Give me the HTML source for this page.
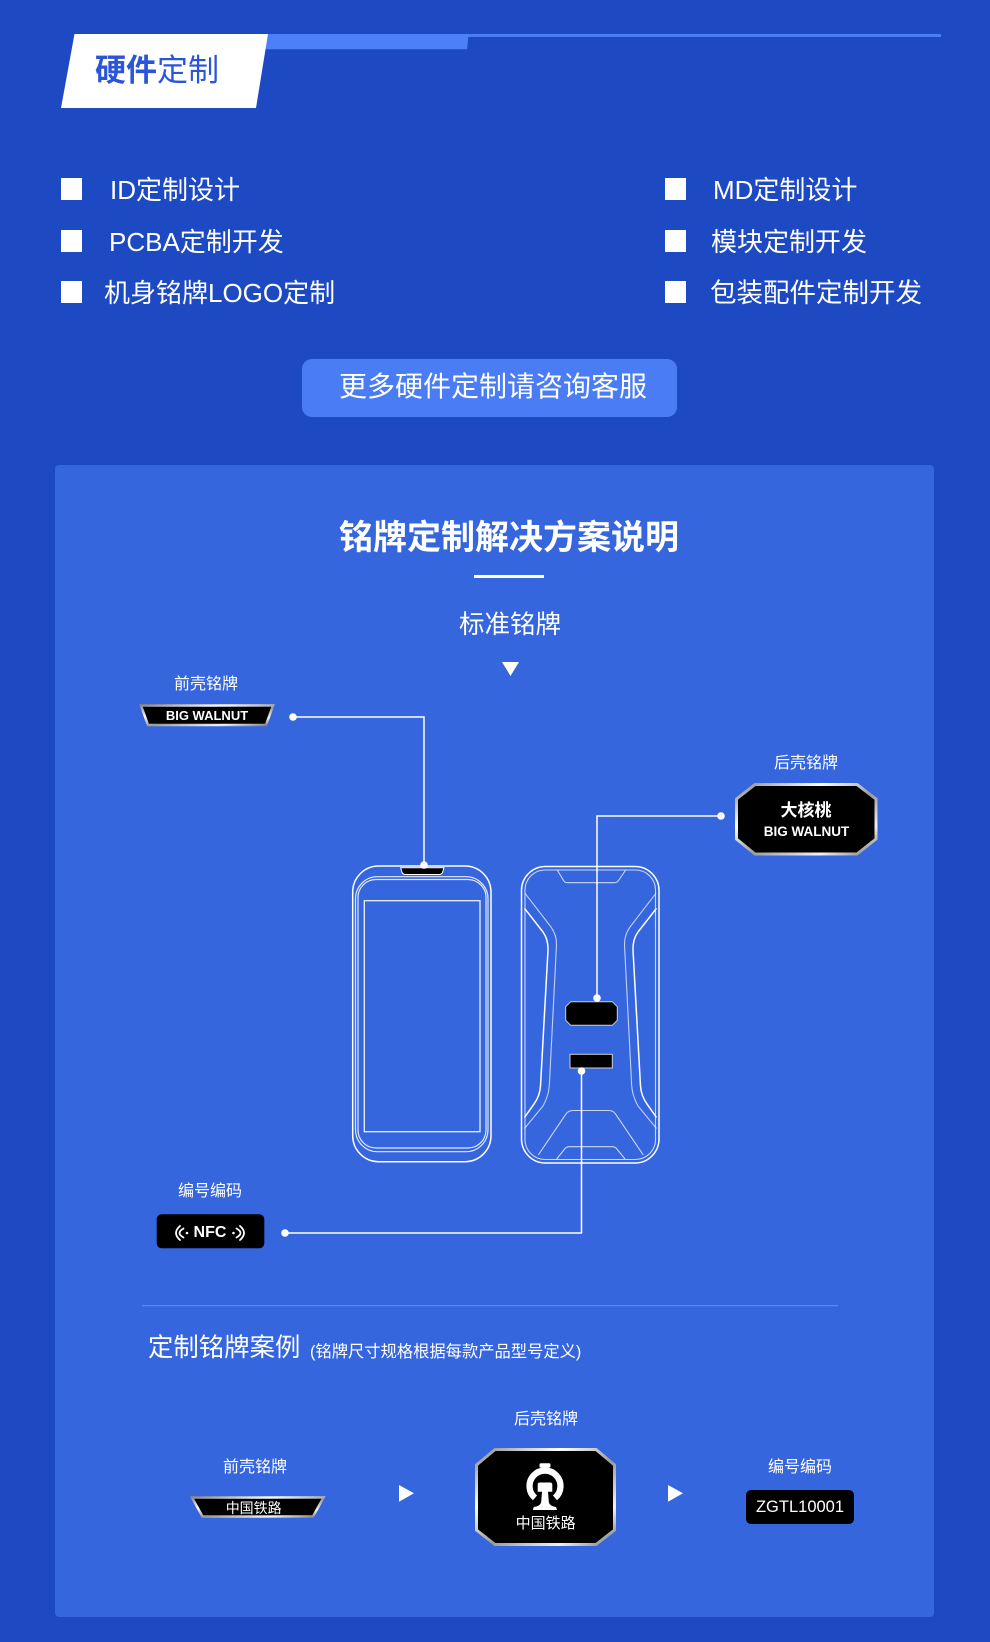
<!DOCTYPE html>
<html>
<head>
<meta charset="utf-8">
<style>
html,body{margin:0;padding:0;}
body{width:990px;height:1642px;background:#1d4ac3;position:relative;overflow:hidden;font-family:"Liberation Sans","Noto Sans CJK SC",sans-serif;color:#fff;}
.t{position:absolute;white-space:nowrap;line-height:1;}
.c{position:absolute;white-space:nowrap;text-align:center;width:240px;}
.sq{position:absolute;width:21px;height:22px;background:#fff;}
svg{position:absolute;left:0;top:0;}
</style>
</head>
<body>
<svg width="990" height="1642" viewBox="0 0 990 1642">
  <defs>
    <linearGradient id="silver" x1="0" y1="0" x2="1" y2="1">
      <stop offset="0" stop-color="#8a8a8a"/>
      <stop offset="0.3" stop-color="#ffffff"/>
      <stop offset="0.55" stop-color="#9a9a9a"/>
      <stop offset="0.8" stop-color="#f2f2f2"/>
      <stop offset="1" stop-color="#7a7a7a"/>
    </linearGradient>
  </defs>
  <!-- header -->
  <rect x="468" y="34" width="473" height="3" fill="#4b7ef5"/>
  <polygon points="262,34 468.5,34 467.2,49.3 262,49.3" fill="#4d80f8"/>
  <polygon points="74.5,34 268,34 256,108 61,108" fill="#ffffff"/>
  <!-- button -->
  <rect x="302" y="359" width="375" height="58" rx="10" fill="#4a7cf6"/>
  <!-- panel -->
  <rect x="55" y="465" width="879" height="1152" rx="4" fill="#3566dd"/>
  <!-- title underline -->
  <rect x="474" y="575" width="70" height="3" fill="#ffffff"/>
  <!-- down triangle -->
  <polygon points="502,662 519,662 510.5,676" fill="#ffffff"/>

  <!-- front plate BIG WALNUT -->
  <polygon points="141,705.5 273,705.5 266,725 148,725" fill="#000" stroke="url(#silver)" stroke-width="2.5"/>
  <!-- back plate octagon -->
  <polygon points="755,784.5 857,784.5 876,799 876,839 857,854 755,854 736.5,839 736.5,799" fill="#000" stroke="url(#silver)" stroke-width="3"/>

  <!-- connectors -->
  <g stroke="#ffffff" stroke-width="1.5" fill="none">
    <polyline points="293,717 424,717 424,865"/>
    <polyline points="721,816 597,816 597,998"/>
    <polyline points="285,1233 581.5,1233 581.5,1071"/>
  </g>

  <!-- front phone -->
  <g fill="none" stroke="#ffffff">
    <rect x="352.7" y="866" width="138.3" height="295.7" rx="26" stroke-width="1.5"/>
    <rect x="355.5" y="876.7" width="132.5" height="275" rx="22" stroke-width="1.2" stroke-opacity="0.85"/>
    <rect x="358" y="879.5" width="128" height="268.5" rx="18" stroke-width="1.2" stroke-opacity="0.85"/>
    <rect x="364.3" y="900.7" width="115.7" height="231" stroke-width="1.3" stroke-opacity="0.9"/>
  </g>
  <path d="M400.7,867.7 L444,867.7 L442.5,872.5 Q441.5,874.5 439,874.5 L405.5,874.5 Q403,874.5 402,872.5 Z" fill="#000" stroke="#ffffff" stroke-width="1"/>

  <!-- back phone -->
  <g fill="none" stroke="#ffffff">
    <rect x="521.5" y="866.5" width="137.5" height="296.5" rx="24" stroke-width="1.5"/>
    <rect x="525" y="870" width="130.5" height="289.5" rx="20" stroke-width="1.1" stroke-opacity="0.75"/>
    <path d="M557.3,870 L563.5,880.5 Q565,882.7 567.5,882.7 L614.5,882.7 Q617,882.7 618.5,880.5 L625.7,870" stroke-width="1.1" stroke-opacity="0.75"/>
    <path d="M524.5,908.3 L543,932 Q548.3,939.5 548,950 L540.5,1086 Q539.8,1096 534,1104 L524.5,1117.5" stroke-width="1.5"/>
    <path d="M525,893.3 L551,927 Q556.7,935 556.5,945 L549.3,1086 Q548.5,1096 543,1106 L524.5,1128.5" stroke-width="1.1" stroke-opacity="0.7"/>
    <path d="M656.5,908.3 L638,932 Q632.7,939.5 633,950 L640.5,1086 Q641.2,1096 647,1104 L656.5,1117.5" stroke-width="1.5"/>
    <path d="M656,893.3 L630,927 Q624.3,935 624.5,945 L631.7,1086 Q632.5,1096 638,1106 L656.5,1128.5" stroke-width="1.1" stroke-opacity="0.7"/>
    <path d="M538.3,1155 L566,1114 Q568.5,1110.5 573,1110.5 L609,1110.5 Q613,1110.5 615.5,1114 L643.3,1155" stroke-width="1.1" stroke-opacity="0.75"/>
    <path d="M556.7,1159 L565,1148.5 Q566.7,1146.7 569.5,1146.7 L612,1146.7 Q614.8,1146.7 616.5,1148.5 L625,1159" stroke-width="1.1" stroke-opacity="0.75"/>
  </g>
  <polygon points="570.7,1001.7 612.3,1001.7 617.3,1006.7 617.3,1020.3 612.3,1025.3 570.7,1025.3 565.7,1020.3 565.7,1006.7" fill="#000" stroke="#cfcfcf" stroke-width="1"/>
  <rect x="570" y="1054.3" width="42.3" height="13.7" fill="#000" stroke="#cfcfcf" stroke-width="1"/>

  <!-- dots -->
  <g fill="#ffffff">
    <circle cx="293" cy="717" r="3.8"/>
    <circle cx="424" cy="865" r="3.8"/>
    <circle cx="721" cy="816" r="3.8"/>
    <circle cx="597" cy="998" r="3.8"/>
    <circle cx="581.5" cy="1071" r="3.8"/>
    <circle cx="285" cy="1233" r="3.8"/>
  </g>

  <!-- NFC plate -->
  <rect x="156.7" y="1214.3" width="107.6" height="34" rx="5" fill="#000"/>
  <g stroke="#ffffff" stroke-width="1.8" fill="none" stroke-linecap="round">
    <path d="M180,1226 Q172,1233 180,1240"/>
    <path d="M183.5,1228.5 Q175.5,1233 183.5,1237.5"/>
    <path d="M240,1226 Q248,1233 240,1240"/>
    <path d="M236.5,1228.5 Q244.5,1233 236.5,1237.5"/>
  </g>
  <circle cx="187" cy="1233" r="1.3" fill="#fff"/>
  <circle cx="233.5" cy="1233" r="1.3" fill="#fff"/>

  <!-- divider -->
  <rect x="142" y="1305" width="696" height="1.2" fill="#5b87ee"/>

  <!-- bottom row -->
  <polygon points="192,1497.5 323.5,1497.5 313,1516.5 202.5,1516.5" fill="#000" stroke="url(#silver)" stroke-width="2.5"/>
  <polygon points="399,1485 414,1493.3 399,1501.7" fill="#ffffff"/>
  <polygon points="668,1485 683,1493.3 668,1501.7" fill="#ffffff"/>
  <polygon points="495,1449.5 596,1449.5 614.5,1465 614.5,1530 596,1544.5 495,1544.5 476.5,1530 476.5,1465" fill="#000" stroke="url(#silver)" stroke-width="3"/>
  <!-- railway logo -->
  <path d="M535,1497.9 A15.5,15.5 0 1 1 555,1497.9" fill="none" stroke="#fff" stroke-width="6.3"/>
  <rect x="539.5" y="1463.3" width="11" height="4.5" rx="1.5" fill="#fff"/>
  <path d="M537.7,1484.5 Q537.7,1482.5 540,1482.5 L550,1482.5 Q552.3,1482.5 552.3,1484.5 L552.3,1491.7 L548,1491.7 L548.8,1502 Q549.5,1506 556,1507 L557,1510 L532.8,1510 L533.8,1507 Q540.5,1506 541.2,1502 L542,1491.7 L537.7,1491.7 Z" fill="#fff"/>
  <rect x="746" y="1490" width="108" height="34" rx="5" fill="#000"/>
</svg>

<!-- header title -->
<div class="t" style="left:95px;top:55px;font-size:31px;color:#2a55d8;"><b>硬件</b>定制</div>

<!-- bullets -->
<div class="sq" style="left:61px;top:178px;"></div>
<div class="sq" style="left:61px;top:230px;"></div>
<div class="sq" style="left:61px;top:281px;"></div>
<div class="sq" style="left:665px;top:178px;"></div>
<div class="sq" style="left:665px;top:230px;"></div>
<div class="sq" style="left:665px;top:281px;"></div>
<div class="t" style="left:110px;top:177px;font-size:26px;">ID定制设计</div>
<div class="t" style="left:109px;top:229px;font-size:26px;">PCBA定制开发</div>
<div class="t" style="left:104px;top:280px;font-size:26px;">机身铭牌LOGO定制</div>
<div class="t" style="left:713px;top:177px;font-size:26px;">MD定制设计</div>
<div class="t" style="left:711px;top:229px;font-size:26px;">模块定制开发</div>
<div class="t" style="left:710px;top:280px;font-size:26.5px;">包装配件定制开发</div>

<!-- button text -->
<div class="c" style="left:293px;width:400px;top:373px;font-size:28px;line-height:28px;">更多硬件定制请咨询客服</div>

<!-- panel title -->
<div class="c" style="left:309px;width:400px;top:521px;font-size:34px;line-height:34px;font-weight:bold;">铭牌定制解决方案说明</div>
<div class="c" style="left:390px;top:613px;font-size:25.5px;line-height:25.5px;">标准铭牌</div>

<!-- labels -->
<div class="c" style="left:86px;top:677px;font-size:16px;line-height:16px;">前壳铭牌</div>
<div class="c" style="left:686px;top:756px;font-size:16px;line-height:16px;">后壳铭牌</div>
<div class="c" style="left:90px;top:1184px;font-size:16px;line-height:16px;">编号编码</div>

<!-- plate texts -->
<div class="c" style="left:87px;top:709px;font-size:13px;line-height:13px;font-weight:bold;">BIG WALNUT</div>
<div class="c" style="left:686px;top:801.5px;font-size:17px;line-height:17px;font-weight:bold;">大核桃</div>
<div class="c" style="left:686.5px;top:825px;font-size:13.5px;line-height:13.5px;font-weight:bold;">BIG WALNUT</div>
<div class="c" style="left:90px;top:1225px;font-size:16px;line-height:16px;font-weight:bold;">NFC</div>

<!-- case section -->
<div class="t" style="left:148px;top:1335.5px;font-size:25.4px;">定制铭牌案例</div>
<div class="t" style="left:310px;top:1344px;font-size:16.3px;">(铭牌尺寸规格根据每款产品型号定义)</div>

<div class="c" style="left:426px;top:1412px;font-size:16px;line-height:16px;">后壳铭牌</div>
<div class="c" style="left:135px;top:1460px;font-size:16px;line-height:16px;">前壳铭牌</div>
<div class="c" style="left:680px;top:1460px;font-size:16px;line-height:16px;">编号编码</div>

<div class="c" style="left:133.7px;top:1500.5px;font-size:14px;line-height:14px;">中国铁路</div>
<div class="c" style="left:425.7px;top:1515.5px;font-size:15px;line-height:15px;">中国铁路</div>
<div class="c" style="left:680px;top:1498.5px;font-size:16.5px;line-height:16.5px;">ZGTL10001</div>
</body>
</html>
